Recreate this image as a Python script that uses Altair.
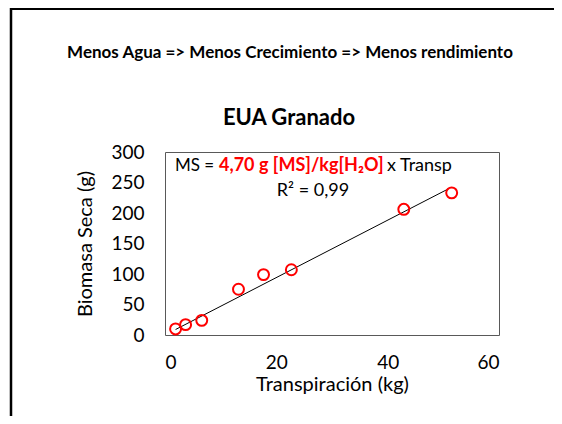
import altair as alt
import pandas as pd

# Data
transp = [1.9, 3.7, 6.6, 13.2, 17.7, 22.7, 42.9, 51.5]
biomasa = [10, 17, 24, 75, 99, 107, 206, 233]
trend_x = [1.9, 51.0]
trend_y = [9, 240]
x_ticks = [0, 20, 40, 60]
y_ticks = [0, 50, 100, 150, 200, 250, 300]

pts = pd.DataFrame({"Transp": transp, "Biomasa": biomasa})
trend = pd.DataFrame({"Transp": trend_x, "Biomasa": trend_y})

FONT = "Lato"
W, H = 334, 183
PL, PT = 157, 144
TOT_W, TOT_H = 546, 408
AX = 19
AT = 20

xs = alt.Scale(domain=[0, 60], nice=False)
ys = alt.Scale(domain=[0, 300], nice=False)

xax = alt.Axis(values=x_ticks, ticks=False, domain=False, grid=False, labelFontSize=AX,
               labelFont=FONT, labelColor="black", labelPadding=18, labelOverlap=False,
               title="Transpiración (kg)",
               titleFont=FONT, titleFontSize=AT, titleFontWeight="normal", titleColor="black",
               titlePadding=2)
yax = alt.Axis(values=y_ticks, ticks=False, domain=False, grid=False, labelFontSize=AX,
               labelFont=FONT, labelColor="black", labelPadding=21, labelOverlap=False,
               title="Biomasa Seca (g)",
               titleFont=FONT, titleFontSize=AT, titleFontWeight="normal", titleColor="black",
               titlePadding=15)

line = alt.Chart(trend).mark_line(color="black", strokeWidth=1).encode(
    x=alt.X("Transp:Q", scale=xs, axis=xax),
    y=alt.Y("Biomasa:Q", scale=ys, axis=yax),
)
points = alt.Chart(pts).mark_point(shape="circle", filled=False, color="#FF0000",
                                   strokeWidth=2, size=120, opacity=1).encode(
    x=alt.X("Transp:Q", scale=xs, axis=xax),
    y=alt.Y("Biomasa:Q", scale=ys, axis=yax),
)

one = pd.DataFrame({"a": [0]})

def txt(s, x, y, color="black", weight="normal", align="left", size=18):
    return alt.Chart(one).mark_text(text=s, font=FONT, fontSize=size, color=color,
                                    fontWeight=weight, align=align, baseline="middle").encode(
        x=alt.value(x), y=alt.value(y))

t1 = txt("MS =", 10, 14, size=17)
t2 = txt("4,70 g [MS]/kg[H₂O]", 54, 14, color="#FF0000", weight="bold")
t3 = txt("x Transp", 222, 14)
t4 = txt("R² = 0,99", 148, 39, align="center")
title1 = txt("Menos Agua => Menos Crecimiento => Menos rendimiento", 125, -99,
             weight="bold", align="center", size=17)
title2 = txt("EUA Granado", 124, -34, weight="bold", align="center", size=22)

frame_top = alt.Chart(one).mark_rule(color="black", strokeWidth=2).encode(
    x=alt.value(-155), x2=alt.value(TOT_W - PL), y=alt.value(-143))
frame_left = alt.Chart(one).mark_rule(color="black", strokeWidth=2.5).encode(
    x=alt.value(-154), y=alt.value(-144), y2=alt.value(TOT_H - PT))

chart = alt.layer(frame_top, frame_left, line, points, t1, t2, t3, t4, title1, title2).properties(
    width=W, height=H,
    autosize=alt.AutoSizeParams(type="none"),
    padding={"left": PL, "top": PT, "right": TOT_W - PL - W, "bottom": TOT_H - PT - H},
).configure(background="white").configure_view(
    stroke="#595959", strokeWidth=1
).configure_axis(labelOverlap=False)

chart.save("out.html", embed_options={"renderer": "svg", "actions": False})
